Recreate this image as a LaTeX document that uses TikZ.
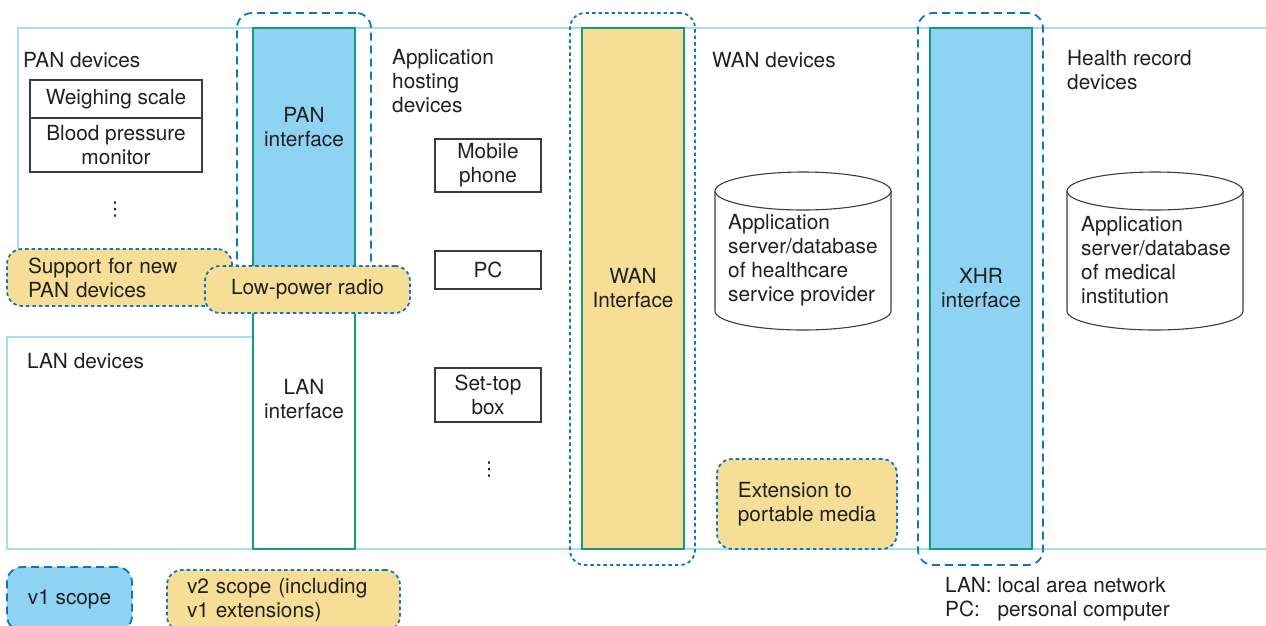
\documentclass[tikz,border=0pt]{standalone}
\usepackage{fontspec}
\setmainfont{TeX Gyre Heros}
\newfontfamily\dotsfont{DejaVu Sans}
\definecolor{vonefill}{RGB}{143,211,243}
\definecolor{vtwofill}{RGB}{246,222,150}
\definecolor{scopeblue}{RGB}{15,117,189}
\definecolor{ifaceteal}{RGB}{19,154,129}
\definecolor{framecyan}{RGB}{166,220,244}
\definecolor{devgray}{RGB}{60,60,60}
\definecolor{txtgray}{RGB}{35,31,32}

\begin{document}
\begin{tikzpicture}[
    x=1pt, y=1pt,
    every node/.style={font=\fontsize{20.8}{24}\selectfont, text=txtgray, align=center, inner sep=0pt},
    region/.style={draw=framecyan, line width=1.5pt},
    iface/.style={rectangle, draw=ifaceteal, line width=2pt, minimum width=102pt},
    device/.style={rectangle, draw=devgray, line width=1.1pt, minimum width=106pt},
    vone/.style={rectangle, rounded corners=15pt, draw=scopeblue, line width=1.8pt, dash pattern=on 8pt off 5pt},
    vtwo/.style={rectangle, rounded corners=15pt, draw=scopeblue, line width=1.8pt, dash pattern=on 3.5pt off 3pt},
    dbline/.style={draw=devgray, line width=1.1pt, fill=white},
    moredots/.style={font=\dotsfont\fontsize{19}{22}\selectfont},
    caption/.style={anchor=west, align=left}
]
% Architettura: dispositivi PAN/LAN, host, WAN e cartella clinica con ambiti v1/v2
\clip (0,0) rectangle (1266,-625);
\draw[region] (18,-249) |- (1270,-28);
\draw[region] (253,-337) -| (7,-549) -- (1270,-549);

% scope outlines
\node[vone, minimum width=134pt, minimum height=287pt] (panscope) at (304,-156.5) {};
\node[vtwo, minimum width=125pt, minimum height=552pt] (wanscope) at (632.5,-289) {};
\node[vone, minimum width=125pt, minimum height=552pt] (xhrscope) at (980.5,-289) {};

% interfaces
\node[iface, fill=vonefill, minimum height=262pt] (panif) at (304,-159) {};
\node[iface, fill=white, minimum height=259pt] (lanif) at (304,-419.5) {};
\node (panlbl) at (304,-127) {PAN\\interface};
\node (lanlbl) at (304,-399) {LAN\\interface};
\node[iface, fill=vtwofill, minimum height=521pt] (wanif) at (633,-288.5) {WAN\\Interface};
\node[iface, fill=vonefill, minimum height=521pt] (xhrif) at (981,-288.5) {XHR\\interface};

% PAN / LAN devices
\node[caption] (pantitle) at (23,-60) {PAN devices};
\node[device, minimum width=172pt, minimum height=38pt] (scale) at (116,-99) {Weighing scale};
\node[device, minimum width=172pt, minimum height=54pt] (bpm) at (116,-145) {Blood pressure\\monitor};
\node[moredots] (pandots) at (115,-210) {⋮};
\node[caption] (lantitle) at (27,-361) {LAN devices};

% application hosting devices
\node[caption] (hosttitle) at (392,-81) {Application\\hosting\\devices};
\node[device, minimum height=53pt] (mobile) at (488,-165.5) {Mobile\\phone};
\node[device, minimum height=38pt] (pc) at (488,-270) {PC};
\node[device, minimum height=54pt] (settop) at (488,-395) {Set-top\\box};
\node[moredots] (hostdots) at (489,-470) {⋮};

% WAN devices
\node[caption] (wantitle) at (712,-60) {WAN devices};
\draw[dbline] (715,-191) -- (715,-311) arc[start angle=180, end angle=360, x radius=88, y radius=19]
    -- (891,-191) arc[start angle=0, end angle=180, x radius=88, y radius=19] -- cycle;
\draw[dbline] (715,-191) arc[start angle=180, end angle=360, x radius=88, y radius=19];
\node[caption] (hcsp) at (728,-260) {Application\\server/database\\of healthcare\\service provider};
\node[vtwo, fill=vtwofill, minimum width=180pt, minimum height=90pt, align=left] (portable) at (807,-504) {Extension to\\portable media};

% health record devices
\node[caption] (xhrtitle) at (1067,-70) {Health record\\devices};
\draw[dbline] (1067,-191) -- (1067,-311) arc[start angle=180, end angle=360, x radius=88, y radius=19]
    -- (1243,-191) arc[start angle=0, end angle=180, x radius=88, y radius=19] -- cycle;
\draw[dbline] (1067,-191) arc[start angle=180, end angle=360, x radius=88, y radius=19];
\node[caption] (medinst) at (1081,-260) {Application\\server/database\\of medical\\institution};

% v2 extensions on top
\node[vtwo, fill=vtwofill, minimum height=57pt, text width=183pt, inner xsep=21pt, align=left] (newpan) at (119.5,-277.5) {Support for new\\PAN devices};
\node[vtwo, fill=vtwofill, minimum width=205pt, minimum height=47pt] (radio) at (307.5,-289.5) {Low-power radio};

% legend
\node[vone, fill=vonefill, minimum width=125pt, minimum height=64pt] (keyvone) at (69.5,-599) {v1 scope};
\node[vtwo, fill=vtwofill, minimum height=61pt, text width=193pt, inner xsep=20pt, align=left] (keyvtwo) at (283.5,-600.5) {v2 scope (including\\v1 extensions)};
\node[caption] (abbrev) at (945,-600) {\begin{tabular}{@{}l@{ }l@{}}LAN: & local area network\\PC: & personal computer\end{tabular}};
\end{tikzpicture}
\end{document}
